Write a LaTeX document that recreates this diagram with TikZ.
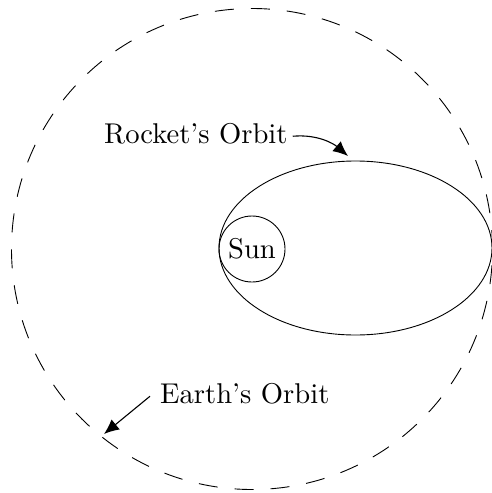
\documentclass[tikz,border=0pt]{standalone}
\usetikzlibrary{arrows.meta,shapes.geometric}
\newcommand{\biglbl}[1]{\scalebox{2.86}{\fontsize{10}{12}\selectfont #1}}
\begin{document}
\begin{tikzpicture}[x=1pt,y=-1pt,
  lbl/.style={inner sep=0pt},
  orbitline/.style={line width=0.9pt},
  pointer/.style={line width=1.1pt,-{Latex[length=15pt,width=13pt]}}]
\useasboundingbox (0,0) rectangle (492,493);
% Earth's orbit (dashed)
\node[circle,draw,orbitline,dash pattern=on 19pt off 17pt,minimum size=481pt,inner sep=0pt] (earthorbit) at (252,249) {};
% Rocket's orbit
\node[ellipse,draw,orbitline,minimum width=273pt,minimum height=174pt,inner sep=0pt] (rocketorbit) at (355.5,248) {};
% Sun
\node[circle,draw,orbitline,minimum size=66pt,inner sep=0pt,lbl] (sun) at (252,249) {\biglbl{Sun}};
% Labels
\node[lbl,anchor=base west] (rocket) at (104,143) {\biglbl{Rocket's Orbit}};
\node[lbl,anchor=base west] (earth) at (160,403) {\biglbl{Earth's Orbit}};
% Arrow targets
\coordinate (rtip) at (348,156);
\coordinate (etip) at (104,434);
\coordinate (rstart) at ([xshift=5pt,yshift=-3pt]rocket.east);
\coordinate (estart) at ([xshift=-10pt,yshift=-3pt]earth.west);
\draw[pointer] (rstart) .. controls (318,134) and (334,144) .. (rtip);
\draw[pointer] (estart) -- (etip);
\end{tikzpicture}
\end{document}
